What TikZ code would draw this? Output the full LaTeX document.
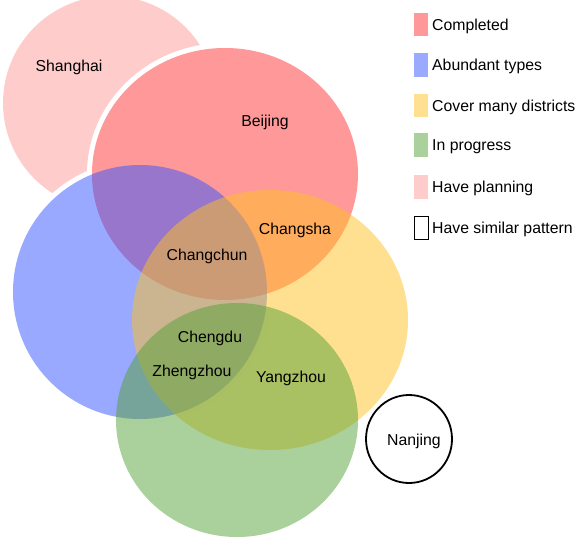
\documentclass[tikz,border=0pt]{standalone}
\usepackage{fontspec}
\setmainfont{Liberation Sans}
\definecolor{cpink}{RGB}{255,204,204}
\definecolor{cred}{RGB}{255,51,51}
\definecolor{cblue}{RGB}{51,85,255}
\definecolor{cyel}{RGB}{255,193,35}
\definecolor{cgreen}{RGB}{85,161,55}
\definecolor{kred}{RGB}{255,153,153}
\definecolor{kblue}{RGB}{153,170,255}
\definecolor{kyel}{RGB}{255,224,145}
\definecolor{kgreen}{RGB}{170,208,155}
\begin{document}
\begin{tikzpicture}[x=1pt,y=-1pt,
  lbl/.style={font=\fontsize{15.8}{19}\selectfont, text=black, inner sep=0pt, anchor=base},
  keytext/.style={font=\fontsize{15.8}{19}\selectfont, text=black, inner sep=0pt, anchor=base west},
  venn/.style={fill opacity=0.5},
  keybox/.style={minimum width=14pt, minimum height=23.5pt, inner sep=0pt, draw=none},
]
\useasboundingbox (0,0) rectangle (577,540);
% have planning (Shanghai) with white gaps cut by the other circles
\fill[cpink] (110,103) circle[radius=107pt];
\fill[white] (225,174) ellipse[x radius=138pt, y radius=131pt];
\fill[white] (140,292) circle[radius=132pt];
% main sets
\fill[cred,venn] (225,174) ellipse[x radius=133pt, y radius=126pt];
\fill[cblue,venn] (140,292) circle[radius=127pt];
\fill[cyel,venn] (270,320) ellipse[x radius=138pt, y radius=130pt];
\fill[cgreen,venn] (237,420) ellipse[x radius=121pt, y radius=117pt];
% similar pattern
\draw[line width=1.8pt] (409,439) ellipse[x radius=43pt, y radius=44pt];
% labels
\node[lbl] (shanghai) at (69,71.6) {Shanghai};
\node[lbl] (beijing) at (265,126.6) {Beijing};
\node[lbl] (changsha) at (295,234.6) {Changsha};
\node[lbl] (changchun) at (207,260.6) {Changchun};
\node[lbl] (chengdu) at (210,342.6) {Chengdu};
\node[lbl] (zhengzhou) at (192,376.6) {Zhengzhou};
\node[lbl] (yangzhou) at (291,382.6) {Yangzhou};
\node[lbl] (nanjing) at (414,445.6) {Nanjing};
% legend
\node[keybox,fill=kred] (k1) at (421,24.5) {};
\node[keybox,fill=kblue] (k2) at (421,65) {};
\node[keybox,fill=kyel] (k3) at (421,105.5) {};
\node[keybox,fill=kgreen] (k4) at (421,145) {};
\node[keybox,fill=cpink] (k5) at (421,187) {};
\node[keybox,draw=black,line width=1pt,fill=white] (k6) at (421,228) {};
\node[keytext] (t1) at (432,30.1) {Completed};
\node[keytext] (t2) at (432,70.6) {Abundant types};
\node[keytext] (t3) at (432,111.1) {Cover many districts};
\node[keytext] (t4) at (432,150.6) {In progress};
\node[keytext] (t5) at (432,192.6) {Have planning};
\node[keytext] (t6) at (432,233.6) {Have similar pattern};
\end{tikzpicture}
\end{document}
